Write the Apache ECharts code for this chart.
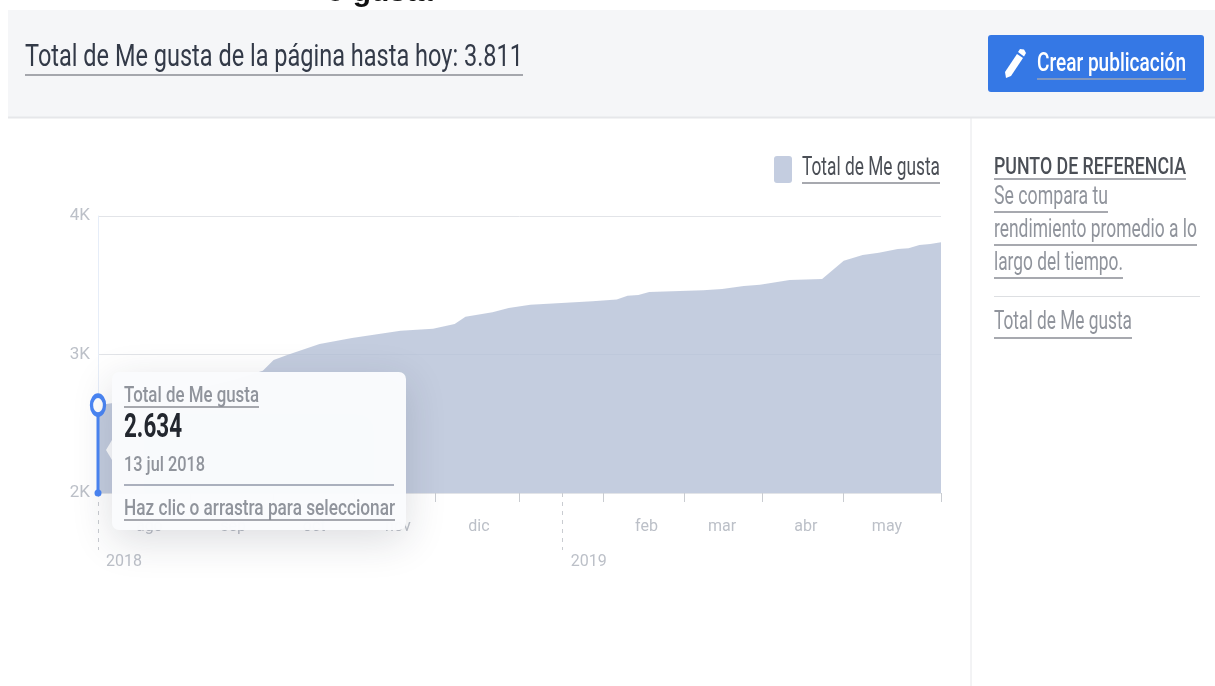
<!DOCTYPE html>
<html lang="es">
  <head>
    <meta charset="UTF-8" />
    <title>Total de Me gusta</title>
    <script src="https://cdn.jsdelivr.net/npm/echarts@6/dist/echarts.min.js"></script>
    <style>
      html, body { margin: 0; padding: 0; background: #fff; }
    </style>
  </head>
  <body>
    <div id="main" style="width: 1215px; height: 686px"></div>
    <script type="text/javascript">
      // Values
      const dates = [
        "2018-07-13", "2018-07-31", "2018-08-20", "2018-09-01", "2018-09-12", "2018-09-16",
        "2018-09-21", "2018-10-03", "2018-10-15", "2018-10-28", "2018-11-02", "2018-11-14",
        "2018-11-22", "2018-11-26", "2018-12-06", "2018-12-12", "2018-12-20", "2019-01-12",
        "2019-01-21", "2019-01-25", "2019-01-29", "2019-02-02", "2019-02-22", "2019-03-01",
        "2019-03-09", "2019-03-15", "2019-03-26", "2019-04-07", "2019-04-15", "2019-04-22",
        "2019-04-28", "2019-05-05", "2019-05-09", "2019-05-13", "2019-05-17", "2019-05-21",
      ];
      const likes = [
        2634, 2686, 2758, 2816, 2883, 2960,
        2996, 3076, 3119, 3157, 3172, 3186,
        3220, 3273, 3305, 3336, 3360, 3384,
        3398, 3424, 3430, 3451, 3464, 3473,
        3495, 3504, 3538, 3545, 3677, 3718,
        3735, 3762, 3767, 3790, 3798, 3811,
      ];

      const monthDates = ["2018-08-01", "2018-09-01", "2018-10-01", "2018-11-01", "2018-12-01", "2019-02-01", "2019-03-01", "2019-04-01", "2019-05-01"];
      const monthNames = ["ago", "sep", "oct", "nov", "dic", "feb", "mar", "abr", "may"];
      const tickDates = ["2018-08-16", "2018-09-16", "2018-10-16", "2018-11-15", "2018-12-16", "2019-01-16", "2019-02-15", "2019-03-16", "2019-04-15", "2019-05-21"];
      const yearDates = ["2018-07-13", "2019-01-01"];
      const yearNames = ["2018", "2019"];

      const hoverDate = "2018-07-13";
      const hoverValue = 2634;

      const ms = (d) => echarts.time.parse(d).getTime();
      const AREA = "#c4cde0";
      const BLUE = "#4a86f5";
      const GREY = "#90949c";
      const AXIS_TEXT = "#bcc0c8";

      const ctx = document.createElement("canvas").getContext("2d");

      // Text in the picture is squeezed sideways, so fit it to its measured width
      function label(str, left, right, cy, size, color, weight, underY, underColor, z) {
        const font = (weight || 400) + " " + size + "px Roboto";
        ctx.font = font;
        const out = [
          {
            type: "text",
            x: left,
            y: cy,
            z: z,
            scaleX: (right - left) / ctx.measureText(str).width,
            style: { text: str, font: font, fill: color, textVerticalAlign: "middle" },
          },
        ];
        if (underY) out.push(rule(left, right, underY, underColor || "#8d949e", 1.5, z));
        return out;
      }

      function rule(x1, x2, y, color, width, z) {
        return {
          type: "line",
          z: z,
          shape: { x1: x1, y1: y, x2: x2, y2: y },
          style: { stroke: color, lineWidth: width || 1 },
        };
      }

      const graphics = [
        // clipped heading at the very top of the page
        { type: "text", x: 326, y: -7, z: 10, style: { text: "o gusta", font: "700 30px 'Liberation Sans'", fill: "#111", textVerticalAlign: "middle" } },
        // page header
        { type: "rect", z: 20, shape: { x: 8, y: 10, width: 1207, height: 107 }, style: { fill: "#f5f6f8" } },
        rule(8, 1215, 117.5, "#e6e7ea", 2, 21),
        { type: "line", z: 21, shape: { x1: 971, y1: 118, x2: 971, y2: 686 }, style: { stroke: "#e6e7ea", lineWidth: 1 } },
        ...label("Total de Me gusta de la página hasta hoy: 3.811", 25, 523, 58, 31, "#333a48", 400, 75, "#8a8d94", 22),
        // button
        { type: "rect", z: 22, shape: { x: 988, y: 35, width: 216, height: 57, r: 3 }, style: { fill: "#3578e5" } },
        { type: "polygon", z: 23, shape: { points: [[1005, 72], [1017, 54], [1023, 58], [1011, 76], [1006, 78]] }, style: { fill: "#fff" } },
        { type: "polygon", z: 23, shape: { points: [[1018, 52], [1020, 49], [1024, 49.5], [1026, 53], [1024, 56.5]] }, style: { fill: "#fff" } },
        ...label("Crear publicación", 1037, 1186, 64, 26, "#fff", 500, 79, "#9aa3b5", 23),
        // legend
        { type: "rect", z: 22, shape: { x: 774, y: 156, width: 18, height: 27, r: 3 }, style: { fill: AREA } },
        ...label("Total de Me gusta", 802, 940, 169, 25, "#4b4f56", 400, 183, "#8a8d94", 22),
        // side panel
        ...label("PUNTO DE REFERENCIA", 994, 1186, 168, 23, "#4b4f56", 500, 179, "#8a8d94", 22),
        ...label("Se compara tu", 994, 1108, 198, 25, GREY, 400, 212, "#8a8d94", 22),
        ...label("rendimiento promedio a lo", 994, 1197, 231, 25, GREY, 400, 245, "#8a8d94", 22),
        ...label("largo del tiempo.", 994, 1123, 264, 25, GREY, 400, 278, "#8a8d94", 22),
        rule(994, 1200, 296.5, "#dddfe2", 1, 22),
        ...label("Total de Me gusta", 994, 1132, 323, 25, GREY, 400, 338, "#8a8d94", 22),
        // hover card
        { type: "polygon", z: 30, shape: { points: [[112, 440], [106, 450], [112, 460]] }, style: { fill: "#fafbfd" } },
        {
          type: "rect",
          z: 30,
          shape: { x: 112, y: 372, width: 294, height: 158, r: 7 },
          style: { fill: "rgba(250,251,253,0.98)", shadowBlur: 40, shadowOffsetY: 10, shadowColor: "rgba(30,40,60,0.16)" },
        },
        ...label("Total de Me gusta", 124, 259, 396, 22, GREY, 500, 407, "#8a8d94", 31),
        ...label("2.634", 124, 182, 429, 33, "#23272f", 700, 0, "", 31),
        ...label("13 jul 2018", 124, 205, 466, 21, GREY, 500, 0, "", 31),
        rule(124, 394, 485, "#9097a8", 1.5, 31),
        ...label("Haz clic o arrastra para seleccionar", 124, 395, 509, 22, GREY, 500, 520, "#8a8d94", 31),
      ];

      let myChart = echarts.init(document.getElementById("main"));

      let options = {
        animation: false,
        backgroundColor: "#fff",
        grid: { left: 98, right: 274, top: 216, bottom: 193 },
        xAxis: [
          {
            type: "value",
            min: ms(dates[0]),
            max: ms(dates[dates.length - 1]),
            axisLine: { show: false },
            splitLine: { show: false },
            axisTick: { show: true, length: 9, customValues: tickDates.map(ms), lineStyle: { color: "#c9ccd1", width: 1 } },
            axisLabel: {
              customValues: monthDates.map(ms),
              margin: 26,
              hideOverlap: false,
              color: AXIS_TEXT,
              fontFamily: "Roboto",
              fontSize: 16,
              formatter: (v) => monthNames[monthDates.map(ms).indexOf(v)],
            },
          },
          {
            type: "value",
            position: "bottom",
            min: ms(dates[0]),
            max: ms(dates[dates.length - 1]),
            axisLine: { show: false },
            splitLine: { show: false },
            axisTick: { show: true, length: 57, customValues: yearDates.map(ms), lineStyle: { color: "#c9ccd1", width: 1, type: [4, 5] } },
            axisLabel: {
              customValues: yearDates.map(ms),
              margin: 61,
              align: "left",
              padding: [0, 0, 0, 8],
              color: AXIS_TEXT,
              fontFamily: "Roboto",
              fontSize: 16,
              formatter: (v) => yearNames[yearDates.map(ms).indexOf(v)],
            },
          },
        ],
        yAxis: {
          type: "value",
          min: 2000,
          max: 4000,
          interval: 1000,
          axisLine: { show: true, lineStyle: { color: "#e6edf8", width: 1 } },
          axisTick: { show: false },
          splitLine: { lineStyle: { color: "#e2e4e8", width: 1 } },
          axisLabel: {
            margin: 8,
            color: AXIS_TEXT,
            fontFamily: "Roboto",
            fontSize: 17,
            formatter: (v) => v / 1000 + "K",
          },
        },
        graphic: graphics,
        series: [
          {
            name: "Total de Me gusta",
            type: "line",
            showSymbol: false,
            symbol: "none",
            lineStyle: { width: 0 },
            areaStyle: { color: "#b5c0d7", opacity: 0.8 },
            data: dates.map((d, i) => [ms(d), likes[i]]),
          },
          {
            // hover marker
            type: "line",
            clip: false,
            z: 5,
            lineStyle: { color: BLUE, width: 3 },
            data: [
              { value: [ms(hoverDate), 2000], symbol: "circle", symbolSize: 7, itemStyle: { color: BLUE } },
              {
                value: [ms(hoverDate), hoverValue],
                symbol: "circle",
                symbolSize: [13, 19],
                itemStyle: { color: "#fff", borderColor: BLUE, borderWidth: 4 },
              },
            ],
          },
        ],
      };

      myChart.setOption(options);
    </script>
  </body>
</html>
